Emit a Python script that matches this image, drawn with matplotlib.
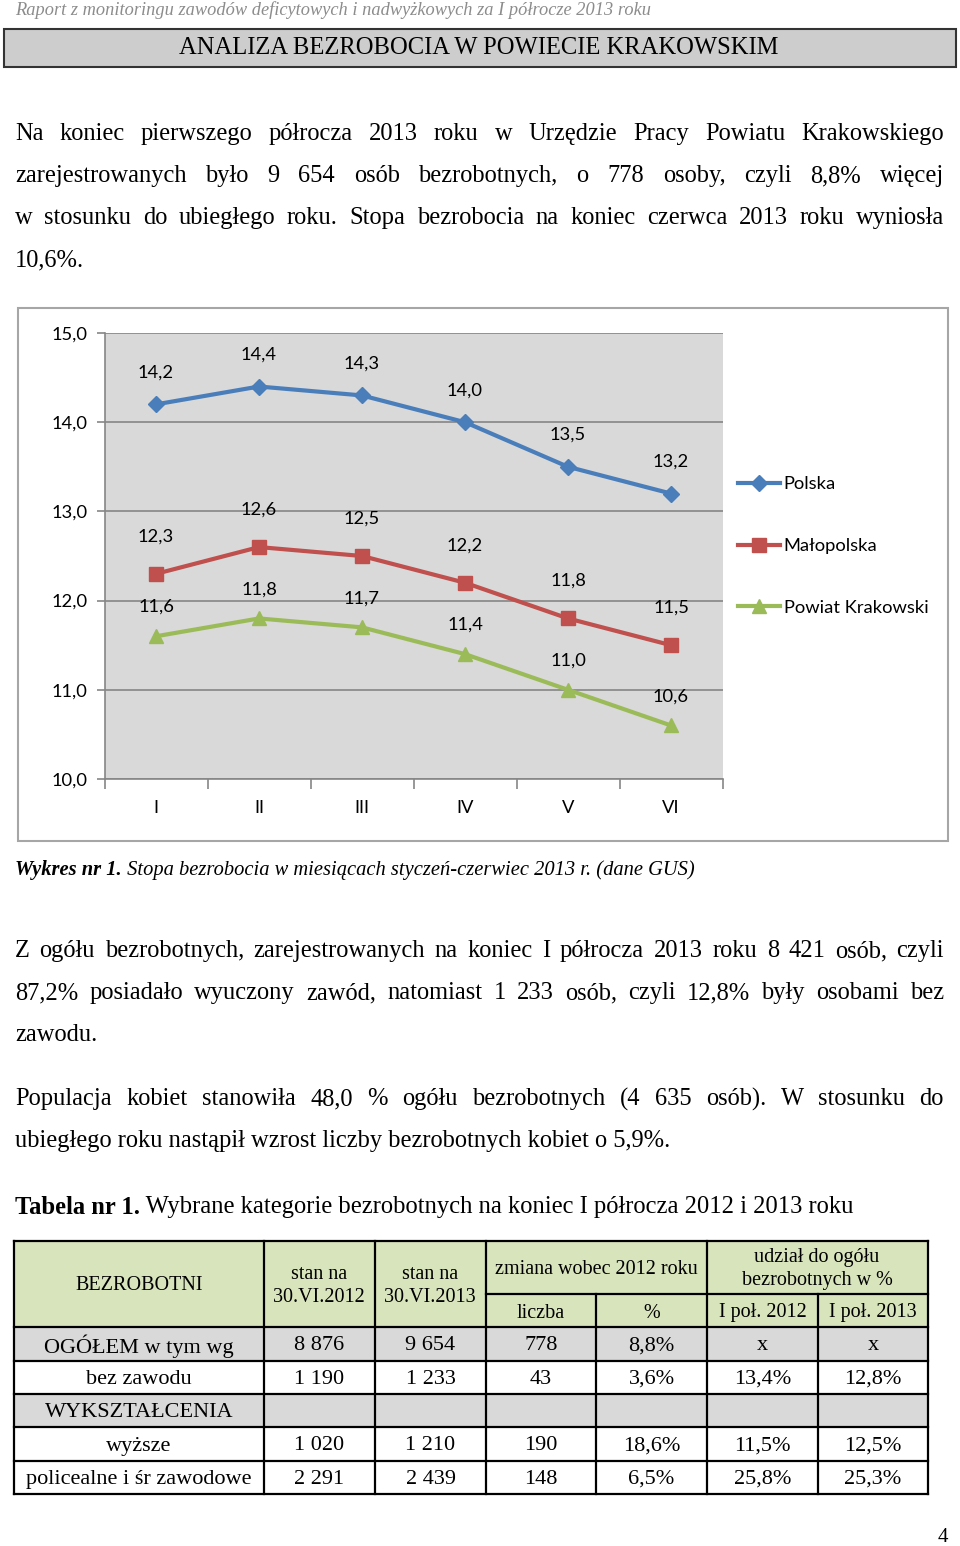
"""Strona raportu: stopa bezrobocia I-VI 2013 (wykres) + tabela kategorii bezrobotnych."""

import matplotlib

matplotlib.use("Agg")
import matplotlib.pyplot as plt
from matplotlib.patches import Rectangle

# --- dane wykresu ---
months = ["I", "II", "III", "IV", "V", "VI"]
polska = [14.2, 14.4, 14.3, 14.0, 13.5, 13.2]
malopolska = [12.3, 12.6, 12.5, 12.2, 11.8, 11.5]
powiat = [11.6, 11.8, 11.7, 11.4, 11.0, 10.6]
series_names = ["Polska", "Małopolska", "Powiat Krakowski"]
y_ticks = [10, 11, 12, 13, 14, 15]

# --- dane tabeli ---
table_rows = ["OGÓŁEM w tym wg", "bez zawodu", "WYKSZTAŁCENIA", "wyższe",
              "policealne i śr zawodowe"]
stan_2012 = ["8 876", "1 190", "", "1 020", "2 291"]
stan_2013 = ["9 654", "1 233", "", "1 210", "2 439"]
zmiana_liczba = ["778", "43", "", "190", "148"]
zmiana_pct = ["8,8%", "3,6%", "", "18,6%", "6,5%"]
udzial_2012 = ["x", "13,4%", "", "11,5%", "25,8%"]
udzial_2013 = ["x", "12,8%", "", "12,5%", "25,3%"]

# --- teksty ---
header = "Raport z monitoringu zawodów deficytowych i nadwyżkowych za I półrocze 2013 roku"
title = "ANALIZA BEZROBOCIA W POWIECIE KRAKOWSKIM"
para1 = [
    "Na koniec pierwszego półrocza 2013 roku w Urzędzie Pracy Powiatu Krakowskiego",
    "zarejestrowanych było 9 654 osób bezrobotnych, o 778 osoby, czyli 8,8% więcej",
    "w stosunku do ubiegłego roku. Stopa bezrobocia na koniec czerwca 2013 roku wyniosła",
    "10,6%.",
]
para2 = [
    "Z ogółu bezrobotnych, zarejestrowanych na koniec I półrocza 2013 roku 8 421 osób, czyli",
    "87,2% posiadało wyuczony zawód, natomiast 1 233 osób, czyli 12,8% były osobami bez",
    "zawodu.",
]
para3 = [
    "Populacja kobiet stanowiła 48,0 % ogółu bezrobotnych (4 635 osób). W stosunku do",
    "ubiegłego roku nastąpił wzrost liczby bezrobotnych kobiet o 5,9%.",
]

SERIF = "Liberation Serif"
SANS = "Lato"
CHART_FS = 13.2

fig = plt.figure(figsize=(9.6, 15.46), dpi=100)
bg = fig.add_axes([0, 0, 1, 1])
bg.set_xlim(0, 960)
bg.set_ylim(1546, 0)
bg.axis("off")
renderer = fig.canvas.get_renderer()


def width(t):
    return t.get_window_extent(renderer).width


def runs(x, y, parts, size):
    """Teksty jeden za drugim w linii; parts = [(tekst, kwargs)]."""
    out = []
    for s, kw in parts:
        t = bg.text(x, y, s, fontsize=size, va="center", ha="left", **kw)
        x += width(t)
        out.append(t)
    return out


def fit(x0, x1, y, parts, guess):
    ts = runs(x0, y, parts, guess)
    w = sum(width(t) for t in ts)
    for t in ts:
        t.remove()
    size = guess * (x1 - x0) / w
    return size, runs(x0, y, parts, size)


def justify(line, y, size, x0=15, x1=944):
    words = line.split(" ")
    ts = [bg.text(0, y, w, fontsize=size, va="center", ha="left", family=SERIF)
          for w in words]
    ws = [width(t) for t in ts]
    gap = (x1 - x0 - sum(ws)) / (len(words) - 1)
    x = x0
    for t, w in zip(ts, ws):
        t.set_x(x)
        x += w + gap


def paragraph(lines, y0, size, step=42):
    for i, line in enumerate(lines):
        y = y0 + i * step
        if i < len(lines) - 1:
            justify(line, y, size)
        else:
            runs(15, y, [(line, {"family": SERIF})], size)


# nagłówek strony
fit(15, 652, 10, [(header, {"family": SERIF, "style": "italic", "color": "#8c8c8c"})], 12)
bg.add_patch(Rectangle((4, 29), 952, 38, facecolor="#cdcdcd", edgecolor="#333333", lw=1.5))
fit(179, 781, 48, [(title, {"family": SERIF})], 15)

# rozmiar tekstu głównego z ostatniej linii akapitu 3
body, tmp = fit(15, 672, 0, [(para3[-1], {"family": SERIF})], 17)
for t in tmp:
    t.remove()

paragraph(para1, 134, body)
paragraph(para2, 951, body)
paragraph(para3, 1099, body)

# ramka wykresu
bg.add_patch(Rectangle((18, 308), 930, 533, facecolor="white", edgecolor="#a6a6a6", lw=1.5))

fit(15, 697, 870, [("Wykres nr 1.", {"family": SERIF, "style": "italic", "weight": "bold"}),
                   (" Stopa bezrobocia w miesiącach styczeń-czerwiec 2013 r. (dane GUS)",
                    {"family": SERIF, "style": "italic"})], 14)

fit(15, 857, 1207, [("Tabela nr 1.", {"family": SERIF, "weight": "bold"}),
                    (" Wybrane kategorie bezrobotnych na koniec I półrocza 2012 i 2013 roku",
                     {"family": SERIF})], 16)

# --- wykres ---
ax = fig.add_axes([104.5 / 960, 1 - 779 / 1546, 618 / 960, 446 / 1546])
ax.set_facecolor("#d9d9d9")
xs = list(range(len(months)))
styles = [
    (polska, "#4a7ebb", "D", 8.5, 23),
    (malopolska, "#c0504d", "s", 9.5, 27),
    (powiat, "#9bbb59", "^", 9.5, 21),
]
for (vals, color, marker, ms, off), name in zip(styles, series_names):
    ax.plot(xs, vals, color=color, lw=3, marker=marker, ms=ms, label=name,
            clip_on=False, zorder=3)
    for xi, v in zip(xs, vals):
        ax.annotate(f"{v:.1f}".replace(".", ","), (xi, v), xytext=(0, off),
                    textcoords="offset points", ha="center", va="center",
                    fontsize=CHART_FS, family=SANS, color="black")

ax.set_xlim(-0.5, len(months) - 0.5)
ax.set_ylim(10, 15)
ax.set_yticks(y_ticks)
ax.set_yticklabels([f"{t:.1f}".replace(".", ",") for t in y_ticks], family=SANS,
                   fontsize=CHART_FS)
ax.set_xticks(xs)
ax.set_xticklabels(months, family=SANS, fontsize=CHART_FS)
ax.set_xticks([i - 0.5 for i in range(len(months) + 1)], minor=True)
ax.tick_params(axis="x", which="major", length=0, pad=15)
ax.tick_params(axis="x", which="minor", length=7, color="#868686", width=1.2)
ax.tick_params(axis="y", length=6, color="#868686", width=1.2, pad=6)
ax.grid(axis="y", color="#868686", lw=1.2)
ax.set_axisbelow(True)
for s in ("top", "right"):
    ax.spines[s].set_visible(False)
for s in ("left", "bottom"):
    ax.spines[s].set_color("#868686")
    ax.spines[s].set_linewidth(1.2)

ax.legend(loc="center left", bbox_to_anchor=(738 / 960, 1 - 546 / 1546),
          bbox_transform=fig.transFigure, frameon=False,
          prop={"family": SANS, "size": CHART_FS}, handlelength=2.3,
          handletextpad=0.2, labelspacing=2.5, borderpad=0, borderaxespad=0)

# --- tabela ---
col_x = [14, 264, 375, 486, 596, 707, 818, 928]
row_y = [1327, 1361, 1394, 1427, 1461, 1494]
bg.add_patch(Rectangle((14, 1241), 914, 86, facecolor="#d8e4bc", edgecolor="none"))
for i in (0, 2):
    bg.add_patch(Rectangle((14, row_y[i]), 914, row_y[i + 1] - row_y[i],
                           facecolor="#d9d9d9", edgecolor="none"))

lk = dict(color="black", lw=1.6, solid_capstyle="projecting")
for y in [1241] + row_y:
    bg.plot([14, 928], [y, y], **lk)
bg.plot([486, 928], [1294, 1294], **lk)
for x in [14, 264, 375, 486, 707, 928]:
    bg.plot([x, x], [1241, 1494], **lk)
for x in [596, 818]:
    bg.plot([x, x], [1294, 1494], **lk)

hs = 14.5
tk = dict(family=SERIF, ha="center", va="center", multialignment="center",
          linespacing=1.35)
bg.text(139, 1286, "BEZROBOTNI", fontsize=hs, **tk)
bg.text(319, 1286, "stan na\n30.VI.2012", fontsize=hs, **tk)
bg.text(430, 1286, "stan na\n30.VI.2013", fontsize=hs, **tk)
bg.text(596, 1270, "zmiana wobec 2012 roku", fontsize=hs, **tk)
bg.text(817, 1269, "udział do ogółu\nbezrobotnych w %", fontsize=hs, **tk)
for c, s in zip(range(3, 7), ["liczba", "%", "I poł. 2012", "I poł. 2013"]):
    bg.text((col_x[c] + col_x[c + 1]) / 2, 1313, s, fontsize=hs, **tk)

cols = [table_rows, stan_2012, stan_2013, zmiana_liczba, zmiana_pct, udzial_2012, udzial_2013]
for c, vals in enumerate(cols):
    cx = (col_x[c] + col_x[c + 1]) / 2
    for r, v in enumerate(vals):
        cy = (row_y[r] + row_y[r + 1]) / 2 + 2
        bg.text(cx, cy, v, fontsize=16, **tk)

bg.text(938, 1537, "4", fontsize=15, family=SERIF, ha="left", va="center")

fig.savefig("out.png", dpi=100)
